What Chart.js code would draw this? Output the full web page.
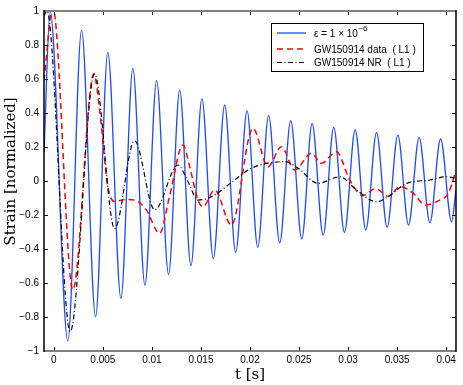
<!DOCTYPE html>
<html>
<head>
<meta charset="utf-8">
<script src="https://cdn.jsdelivr.net/npm/chart.js@4"></script>
<style>
  html, body { margin: 0; padding: 0; background: #fff; }
  #wrap { position: relative; width: 463px; height: 385px; }
</style>
</head>
<body>
<div id="wrap"><canvas id="myChart"></canvas></div>
<script>
const xTicks = [0, 0.005, 0.01, 0.015, 0.02, 0.025, 0.03, 0.035, 0.04];
const yTicks = [-1, -0.8, -0.6, -0.4, -0.2, 0, 0.2, 0.4, 0.6, 0.8, 1];

const labels = ['ε = 1 × 10^−6', 'GW150914 data  ( L1 )', 'GW150914 NR  ( L1 )'];

// model (epsilon = 1e-6), read at peaks and troughs
const modelT = [-0.001, -0.00037, 0.00143, 0.00283, 0.00426, 0.00551, 0.00684, 0.00806, 0.00929, 0.01048,
  0.0117, 0.01283, 0.01398, 0.0151, 0.01626, 0.01742, 0.01854, 0.0197, 0.02079, 0.0219,
  0.02303, 0.02415, 0.02528, 0.02633, 0.02746, 0.02854, 0.02963, 0.03072, 0.03181, 0.0329,
  0.03398, 0.03507, 0.03616, 0.03724, 0.03834, 0.03943, 0.04055, 0.041];
const modelY = [0.17, 1.0, -0.94, 0.888, -0.798, 0.757, -0.69, 0.663, -0.612, 0.59,
  -0.549, 0.535, -0.498, 0.484, -0.457, 0.447, -0.42, 0.412, -0.39, 0.384,
  -0.363, 0.355, -0.341, 0.339, -0.318, 0.316, -0.302, 0.3, -0.288, 0.286,
  -0.273, 0.27, -0.259, 0.257, -0.245, 0.247, -0.24, -0.05];

// GW150914 data (L1)
const dataT = [-0.001, -0.0001, 0.00194, 0.00408, 0.00467, 0.00551, 0.0062, 0.00738, 0.0084, 0.00943,
  0.01079, 0.0118, 0.01317, 0.01385, 0.0147, 0.0152, 0.0164, 0.0181, 0.0203, 0.02184,
  0.0232, 0.02456, 0.02626, 0.02729, 0.0288, 0.03017, 0.0315, 0.0328, 0.0341, 0.0353,
  0.0366, 0.0379, 0.0394, 0.0402, 0.041];
const dataY = [0.59, 1.02, -0.64, 0.63, 0.418, -0.033, -0.12, -0.108, -0.116, -0.17,
  -0.308, -0.09, 0.212, 0.084, -0.112, -0.151, -0.053, -0.259, 0.31, 0.084,
  0.202, 0.065, 0.163, 0.104, 0.172, 0.006, -0.085, -0.045, -0.09, -0.033,
  -0.07, -0.141, -0.11, -0.075, 0.06];

// GW150914 NR (L1)
const nrT = [-0.001, -0.0007, 0.00167, 0.00415, 0.0062, 0.00823, 0.01028, 0.01266, 0.01368, 0.0147,
  0.0161, 0.01844, 0.02014, 0.02354, 0.0249, 0.02694, 0.02916, 0.03086, 0.0329, 0.03408,
  0.03596, 0.03834, 0.04004, 0.041];
const nrY = [0.97, 1.0, -0.886, 0.63, -0.28, 0.237, -0.17, 0.094, -0.004, -0.112,
  -0.092, 0.006, 0.075, 0.114, 0.075, -0.014, 0.025, -0.053, -0.122, -0.092,
  -0.014, 0.006, 0.025, 0.016];

function toPoints(ts, ys) {
  return ts.map((t, i) => ({ x: t, y: ys[i] }));
}

// box, inward ticks and boxed legend like the original figure
const boxPlugin = {
  id: 'boxPlugin',
  afterDraw(chart) {
    const ctx = chart.ctx;
    const a = chart.chartArea;
    const xs = chart.scales.x, ys = chart.scales.y;
    ctx.save();
    ctx.setLineDash([]);
    ctx.strokeStyle = '#000';
    ctx.lineWidth = 1;
    const tl = 4;
    xTicks.forEach(v => {
      const px = Math.round(xs.getPixelForValue(v)) + 0.5;
      ctx.beginPath();
      ctx.moveTo(px, a.bottom); ctx.lineTo(px, a.bottom - tl);
      ctx.moveTo(px, a.top); ctx.lineTo(px, a.top + tl);
      ctx.stroke();
    });
    yTicks.forEach(v => {
      const py = Math.round(ys.getPixelForValue(v)) + 0.5;
      ctx.beginPath();
      ctx.moveTo(a.left, py); ctx.lineTo(a.left + tl, py);
      ctx.moveTo(a.right, py); ctx.lineTo(a.right - tl, py);
      ctx.stroke();
    });
    // frame
    ctx.strokeStyle = '#808080';
    ctx.lineWidth = 2;
    ctx.beginPath();
    ctx.moveTo(a.left, a.top); ctx.lineTo(a.right, a.top);
    ctx.moveTo(a.left, a.bottom); ctx.lineTo(a.right, a.bottom);
    ctx.stroke();
    ctx.strokeStyle = '#000';
    ctx.lineWidth = 1.5;
    ctx.beginPath();
    ctx.moveTo(a.left, a.top - 1); ctx.lineTo(a.left, a.bottom + 1);
    ctx.moveTo(a.right, a.top - 1); ctx.lineTo(a.right, a.bottom + 1);
    ctx.stroke();

    // legend
    const lx = 271, ly = 23, lw = 152, lh = 48;
    ctx.fillStyle = '#fff';
    ctx.fillRect(lx, ly, lw, lh);
    ctx.strokeStyle = '#000';
    ctx.lineWidth = 1;
    ctx.strokeRect(lx + 0.5, ly + 0.5, lw, lh);
    const rows = [33, 49, 62.5];
    chart.data.datasets.forEach((ds, i) => {
      const y = rows[i];
      ctx.strokeStyle = ds.borderColor;
      ctx.lineWidth = ds.borderWidth;
      ctx.setLineDash(ds.borderDash || []);
      ctx.beginPath();
      ctx.moveTo(277, y); ctx.lineTo(306, y);
      ctx.stroke();
      ctx.setLineDash([]);
      ctx.fillStyle = '#000';
      ctx.textBaseline = 'middle';
      ctx.textAlign = 'left';
      ctx.font = '10px "Liberation Sans", Arial, sans-serif';
      const parts = ds.label.split('^');
      ctx.fillText(parts[0], 314, y + 1);
      if (parts[1]) {
        const w = ctx.measureText(parts[0]).width;
        ctx.font = '8px "Liberation Sans", Arial, sans-serif';
        ctx.fillText(parts[1], 314 + w + 0.5, y - 4);
      }
    });
    ctx.restore();
  }
};

const tickFont = { family: '"Liberation Sans", Arial, sans-serif', size: 10 };
const titleFont = { family: '"DejaVu Serif", serif', size: 15 };

const config = {
  type: 'line',
  data: {
    datasets: [
      {
        label: labels[0],
        data: toPoints(modelT, modelY),
        borderColor: '#1f48ff',
        borderWidth: 1.3,
        cubicInterpolationMode: 'monotone',
        pointRadius: 0,
        fill: false,
        order: 3
      },
      {
        label: labels[1],
        data: toPoints(dataT, dataY),
        borderColor: '#ff0000',
        borderWidth: 1.5,
        borderDash: [6, 4],
        cubicInterpolationMode: 'monotone',
        pointRadius: 0,
        fill: false,
        order: 2
      },
      {
        label: labels[2],
        data: toPoints(nrT, nrY),
        borderColor: '#000000',
        borderWidth: 1.2,
        borderDash: [5, 2.5, 1, 2.5],
        cubicInterpolationMode: 'monotone',
        pointRadius: 0,
        fill: false,
        order: 1
      }
    ]
  },
  options: {
    responsive: true,
    maintainAspectRatio: false,
    animation: false,
    layout: { padding: { top: 11, right: 7, left: 0, bottom: 0 } },
    plugins: {
      legend: { display: false },
      tooltip: { enabled: false }
    },
    scales: {
      x: {
        type: 'linear',
        min: -0.001,
        max: 0.041,
        afterBuildTicks: s => { s.ticks = xTicks.map(v => ({ value: v })); },
        afterFit: s => { s.height = 34; },
        grid: { display: false, drawTicks: false },
        border: { display: false },
        ticks: {
          font: tickFont,
          color: '#000',
          padding: 3,
          maxRotation: 0,
          callback: v => String(Math.round(v * 1000) / 1000)
        },
        title: {
          display: true,
          text: 't [s]',
          font: titleFont,
          color: '#000',
          padding: { top: 0, bottom: 1 }
        }
      },
      y: {
        min: -1,
        max: 1,
        afterBuildTicks: s => { s.ticks = yTicks.map(v => ({ value: v })); },
        afterFit: s => { s.width = 44; },
        grid: { display: false, drawTicks: false },
        border: { display: false },
        ticks: {
          font: tickFont,
          color: '#000',
          padding: 5,
          callback: v => {
            const r = Math.round(v * 10) / 10;
            return r < 0 ? '−' + Math.abs(r) : String(r);
          }
        },
        title: {
          display: true,
          // leading spaces nudge the centred label up, as in the original
          text: '    Strain [normalized]',
          font: titleFont,
          color: '#000',
          padding: { top: 2, bottom: 0 }
        }
      }
    }
  },
  plugins: [boxPlugin]
};

new Chart(document.getElementById('myChart'), config);
</script>
</body>
</html>
